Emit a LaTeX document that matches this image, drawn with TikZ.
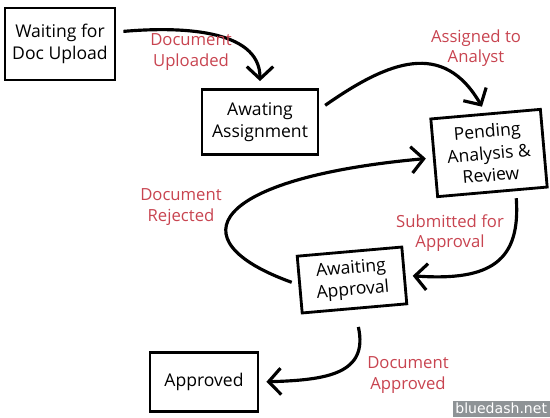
\documentclass[tikz,border=0pt]{standalone}
\usepackage{fontspec}
\setmainfont{Open Sans}
\newfontfamily\markfont{DejaVu Sans}
\usetikzlibrary{arrows.meta, positioning}
\definecolor{notered}{HTML}{C84450}
\definecolor{markgray}{HTML}{8E9396}

\begin{document}
\begin{tikzpicture}[
    x=0.02cm, y=0.02cm,
    stage/.style={rectangle, draw=black, line width=1.6pt, align=center, font=\fontsize{10}{12.5}\selectfont, inner sep=2pt},
    arrow/.style={-{Straight Barb[length=7pt, width=15pt]}, line width=1.8pt, shorten <=4pt, shorten >=4pt},
    note/.style={text=notered, align=center, font=\fontsize{9.5}{11.5}\selectfont}
]
\useasboundingbox (0,0) rectangle (550,417);

\node[stage, minimum width=2.2cm, minimum height=1.44cm] (wait) at (60,373) {Waiting for\\Doc Upload};
\node[stage, minimum width=2.32cm, minimum height=1.3cm] (assign) at (260,295) {Awating\\Assignment};
\node[stage, minimum width=2.2cm, minimum height=1.56cm, rotate=5] (pending) at (489,264) {Pending\\Analysis \&\\Review};
\node[stage, minimum width=2.1cm, minimum height=1.14cm, rotate=5] (approval) at (352,137) {Awaiting\\Approval};
\node[stage, minimum width=2.16cm, minimum height=1.18cm] (approved) at (204,35) {Approved};

\draw[arrow] (wait.12) to[out=5, in=90] (assign.north);
\draw[arrow] (assign.12) to[out=35, in=120, looseness=1.3] (pending.north);
\draw[arrow] (approval.west) .. controls +(-125,45) and +(-220,-20) .. (pending.west);
\draw[arrow] (pending.-60) .. controls +(5,-70) and +(85,-6) .. (approval.east);
\draw[arrow, shorten <=10pt] (approval.south) .. controls +(14,-64) and +(68,2) .. (approved.east);

\node[note] (uploaded) at (191,365) {Document\\Uploaded};
\node[note] (assigned) at (476,369) {Assigned to\\Analyst};
\node[note] (rejected) at (181,210) {Document\\Rejected};
\node[note] (submitted) at (450,184) {Submitted for\\Approval};
\node[note] (accepted) at (408,42) {Document\\Approved};

\node[fill=markgray, text=white, font=\markfont\fontsize{8}{8}\selectfont, inner sep=1.5pt, anchor=south east] (mark) at (550,0) {bluedash.net};

\end{tikzpicture}
\end{document}
